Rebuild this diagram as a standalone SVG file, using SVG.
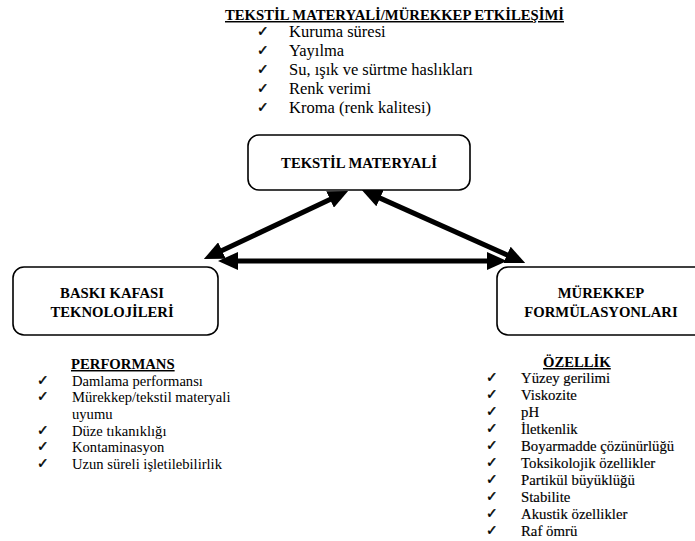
<svg xmlns="http://www.w3.org/2000/svg" width="695" height="541" viewBox="0 0 695 541">
<style>
.box{fill:#fff;stroke:#000;stroke-width:1.6}
.bt{font-family:"Liberation Serif","Times New Roman",serif;font-weight:bold;font-size:14.7px;fill:#000;text-anchor:middle}
.hd{font-family:"Liberation Serif","Times New Roman",serif;font-weight:bold;font-size:14.7px;fill:#000;text-decoration:underline}
.it{font-family:"Liberation Serif","Times New Roman",serif;font-size:14.6px;fill:#000}
.itb{font-family:"Liberation Serif","Times New Roman",serif;font-size:14.8px;fill:#000;stroke:#000;stroke-width:0.15}
.itl{font-family:"Liberation Serif","Times New Roman",serif;font-size:16.5px;fill:#000}
.ck{font-family:"DejaVu Sans",sans-serif;font-size:14px;fill:#000;stroke:#000;stroke-width:0.4}
.ar{stroke:#000;stroke-width:5;fill:none}
</style>
<defs>
<marker id="ah" markerUnits="userSpaceOnUse" markerWidth="20" markerHeight="18" refX="11" refY="9" orient="auto-start-reverse" viewBox="0 0 20 18">
<path d="M0,0 L20,9 L0,18 z" fill="#000"/>
</marker>
</defs>

<g id="title-list">
<text class="hd" x="225" y="20">TEKSTİL MATERYALİ/MÜREKKEP ETKİLEŞİMİ</text>
<text class="ck" x="257" y="36">✓</text><text class="itl" x="289" y="37">Kuruma süresi</text>
<text class="ck" x="257" y="55">✓</text><text class="itl" x="289" y="56">Yayılma</text>
<text class="ck" x="257" y="74">✓</text><text class="itl" x="289" y="75">Su, ışık ve sürtme haslıkları</text>
<text class="ck" x="257" y="93">✓</text><text class="itl" x="289" y="94">Renk verimi</text>
<text class="ck" x="257" y="112">✓</text><text class="itl" x="289" y="113">Kroma (renk kalitesi)</text>
</g>

<g id="connectors">
<line class="ar" x1="212" y1="255.2" x2="340" y2="194.8" marker-start="url(#ah)" marker-end="url(#ah)"/>
<line class="ar" x1="370" y1="193.6" x2="517" y2="259.4" marker-start="url(#ah)" marker-end="url(#ah)"/>
<line class="ar" x1="227" y1="261" x2="498" y2="261" marker-start="url(#ah)" marker-end="url(#ah)"/>
</g>

<g id="node-tekstil">
<rect class="box" x="248" y="135" width="222" height="55" rx="11"/>
<text class="bt" x="359" y="168">TEKSTİL MATERYALİ</text>
</g>

<g id="node-baski">
<rect class="box" x="13" y="267" width="205" height="68" rx="11"/>
<text class="bt" x="112" y="298">BASKI KAFASI</text>
<text class="bt" x="112" y="317">TEKNOLOJİLERİ</text>
</g>

<g id="node-murekkep">
<rect class="box" x="497" y="267" width="220" height="68" rx="11"/>
<text class="bt" x="601" y="298">MÜREKKEP</text>
<text class="bt" x="601" y="317">FORMÜLASYONLARI</text>
</g>

<g id="performans-list">
<text class="hd" x="71" y="369">PERFORMANS</text>
<text class="ck" x="37" y="385">✓</text><text class="it" x="72" y="386">Damlama performansı</text>
<text class="ck" x="37" y="401">✓</text><text class="it" x="72" y="402">Mürekkep/tekstil materyali</text>
<text class="it" x="72" y="419">uyumu</text>
<text class="ck" x="37" y="435">✓</text><text class="it" x="72" y="436">Düze tıkanıklığı</text>
<text class="ck" x="37" y="451">✓</text><text class="it" x="72" y="452">Kontaminasyon</text>
<text class="ck" x="37" y="468">✓</text><text class="it" x="72" y="469">Uzun süreli işletilebilirlik</text>
</g>

<g id="ozellik-list">
<text class="hd" x="543" y="367">ÖZELLİK</text>
<text class="ck" x="486" y="382">✓</text><text class="itb" x="521" y="383">Yüzey gerilimi</text>
<text class="ck" x="486" y="399">✓</text><text class="itb" x="521" y="400">Viskozite</text>
<text class="ck" x="486" y="416">✓</text><text class="itb" x="521" y="417">pH</text>
<text class="ck" x="486" y="433">✓</text><text class="itb" x="521" y="434">İletkenlik</text>
<text class="ck" x="486" y="450">✓</text><text class="itb" x="521" y="451">Boyarmadde çözünürlüğü</text>
<text class="ck" x="486" y="467">✓</text><text class="itb" x="521" y="468">Toksikolojik özellikler</text>
<text class="ck" x="486" y="484">✓</text><text class="itb" x="521" y="485">Partikül büyüklüğü</text>
<text class="ck" x="486" y="501">✓</text><text class="itb" x="521" y="502">Stabilite</text>
<text class="ck" x="486" y="518">✓</text><text class="itb" x="521" y="519">Akustik özellikler</text>
<text class="ck" x="486" y="535">✓</text><text class="itb" x="521" y="536">Raf ömrü</text>
</g>
</svg>
